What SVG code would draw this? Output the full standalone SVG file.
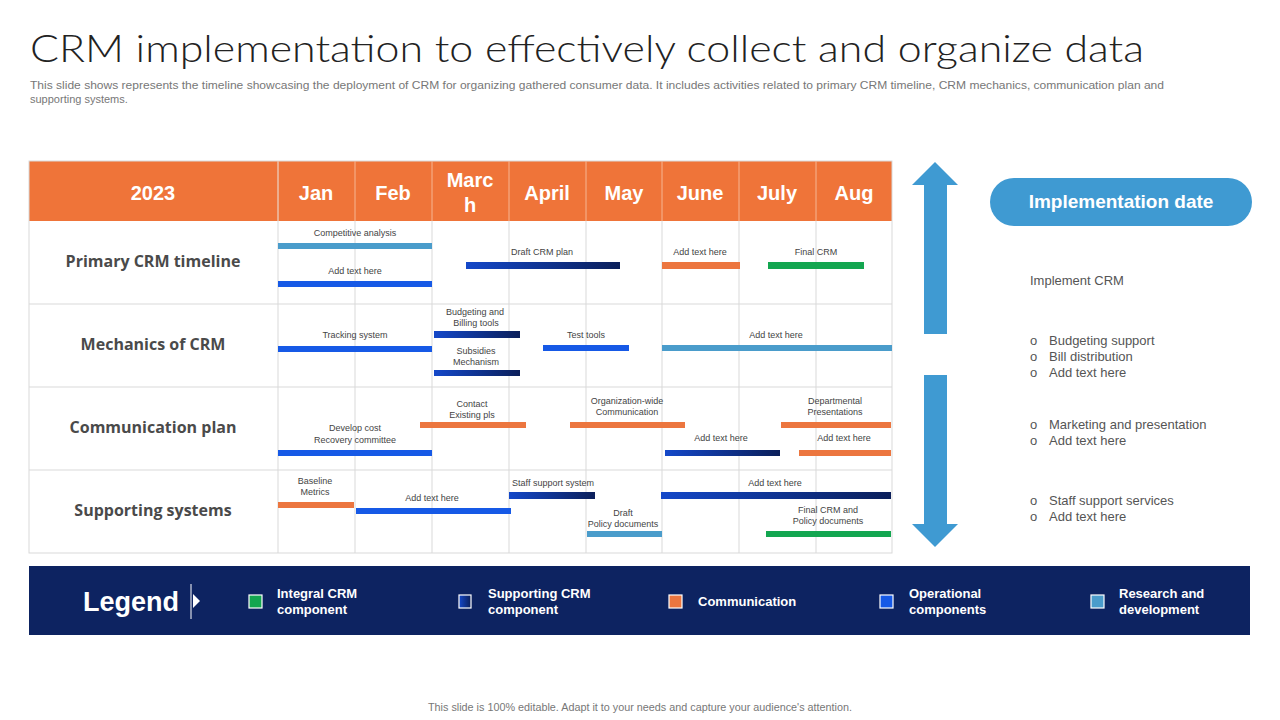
<svg xmlns="http://www.w3.org/2000/svg" width="1280" height="720" viewBox="0 0 1280 720">
<defs>
<linearGradient id="gDark" x1="0" y1="0" x2="1" y2="0">
<stop offset="0" stop-color="#1448c9"/>
<stop offset="1" stop-color="#0b1f5a"/>
</linearGradient>
<style>
.title{font-family:Lato,"Liberation Sans",Arial,sans-serif;font-weight:300;font-size:37px;fill:#222;}
.sub{font-family:"Liberation Sans",Arial,sans-serif;font-size:11px;fill:#777;}
.hdr{font-family:"Liberation Sans",Arial,sans-serif;font-size:20px;font-weight:bold;fill:#fff;text-anchor:middle;}
.rowl{font-family:"Open Sans","Liberation Sans",sans-serif;font-size:16px;font-weight:bold;fill:#4a4a4a;text-anchor:middle;}
.lbl{font-family:"Liberation Sans",Arial,sans-serif;font-size:9px;fill:#444;text-anchor:middle;}
.grid{stroke:#d9d9d9;stroke-width:1;fill:none;}
.rt{font-family:"Liberation Sans",Arial,sans-serif;font-size:13px;fill:#555;}
.leg{font-family:"Liberation Sans",Arial,sans-serif;font-size:13px;font-weight:bold;fill:#fff;}
.sq{stroke:#fff;stroke-width:1.2;}
.op{fill:#1659e6;}
.rd{fill:#4a9ccb;}
.cm{fill:#ec763f;}
.ig{fill:#13a650;}
.sp{fill:url(#gDark);}
</style>
</defs>
<rect width="1280" height="720" fill="#fff"/>
<g id="title">
<text class="title" x="30" y="62" textLength="1114" lengthAdjust="spacingAndGlyphs">CRM implementation to effectively collect and organize data</text>
<text class="sub" x="30" y="89" textLength="1134" lengthAdjust="spacingAndGlyphs">This slide shows represents the timeline showcasing the deployment of CRM for organizing gathered consumer data. It includes activities related to primary CRM timeline, CRM mechanics, communication plan and</text>
<text class="sub" x="30" y="103">supporting systems.</text>
</g>
<g id="table">
<rect x="29" y="161" width="863" height="60" fill="#ef7439"/>
<g class="grid">
<rect x="29" y="161" width="863" height="392"/>
<line x1="29" y1="304" x2="892" y2="304"/>
<line x1="29" y1="387" x2="892" y2="387"/>
<line x1="29" y1="470" x2="892" y2="470"/>
<line x1="278" y1="161" x2="278" y2="553"/>
<line x1="355" y1="221" x2="355" y2="553"/>
<line x1="432" y1="221" x2="432" y2="553"/>
<line x1="509" y1="221" x2="509" y2="553"/>
<line x1="586" y1="221" x2="586" y2="553"/>
<line x1="662" y1="221" x2="662" y2="553"/>
<line x1="739" y1="221" x2="739" y2="553"/>
<line x1="816" y1="221" x2="816" y2="553"/>
</g>
<g stroke="#f6b593" stroke-width="1">
<line x1="278" y1="161" x2="278" y2="221"/>
<line x1="355" y1="161" x2="355" y2="221"/>
<line x1="432" y1="161" x2="432" y2="221"/>
<line x1="509" y1="161" x2="509" y2="221"/>
<line x1="586" y1="161" x2="586" y2="221"/>
<line x1="662" y1="161" x2="662" y2="221"/>
<line x1="739" y1="161" x2="739" y2="221"/>
<line x1="816" y1="161" x2="816" y2="221"/>
</g>
<text class="hdr" x="153" y="200">2023</text>
<text class="hdr" x="316" y="200">Jan</text>
<text class="hdr" x="393" y="200">Feb</text>
<text class="hdr" x="470" y="187">Marc</text>
<text class="hdr" x="470" y="212">h</text>
<text class="hdr" x="547" y="200">April</text>
<text class="hdr" x="624" y="200">May</text>
<text class="hdr" x="700" y="200">June</text>
<text class="hdr" x="777" y="200">July</text>
<text class="hdr" x="854" y="200">Aug</text>
<text class="rowl" x="153" y="267">Primary CRM timeline</text>
<text class="rowl" x="153" y="350">Mechanics of CRM</text>
<text class="rowl" x="153" y="433">Communication plan</text>
<text class="rowl" x="153" y="516">Supporting systems</text>
</g>
<g id="row-primary">
<text class="lbl" x="355" y="236">Competitive analysis</text>
<rect class="rd" x="278" y="243" width="154" height="6"/>
<text class="lbl" x="355" y="274">Add text here</text>
<rect class="op" x="278" y="281" width="154" height="6"/>
<text class="lbl" x="542" y="255">Draft CRM plan</text>
<rect class="sp" x="466" y="262" width="154" height="7"/>
<text class="lbl" x="700" y="255">Add text here</text>
<rect class="cm" x="662" y="262" width="78" height="7"/>
<text class="lbl" x="816" y="255">Final CRM</text>
<rect class="ig" x="768" y="262" width="96" height="7"/>
</g>
<g id="row-mechanics">
<text class="lbl" x="355" y="338">Tracking system</text>
<rect class="op" x="278" y="346" width="154" height="6"/>
<text class="lbl" x="475" y="315">Budgeting and</text>
<text class="lbl" x="476" y="326">Billing tools</text>
<rect class="sp" x="434" y="331" width="86" height="7"/>
<text class="lbl" x="476" y="354">Subsidies</text>
<text class="lbl" x="476" y="365">Mechanism</text>
<rect class="sp" x="434" y="370" width="86" height="6"/>
<text class="lbl" x="586" y="338">Test tools</text>
<rect class="op" x="543" y="345" width="86" height="6"/>
<text class="lbl" x="776" y="338">Add text here</text>
<rect class="rd" x="662" y="345" width="230" height="6"/>
</g>
<g id="row-communication">
<text class="lbl" x="472" y="407">Contact</text>
<text class="lbl" x="472" y="418">Existing pls</text>
<rect class="cm" x="420" y="422" width="106" height="6"/>
<text class="lbl" x="627" y="404">Organization-wide</text>
<text class="lbl" x="627" y="415">Communication</text>
<rect class="cm" x="570" y="422" width="115" height="6"/>
<text class="lbl" x="835" y="404">Departmental</text>
<text class="lbl" x="835" y="415">Presentations</text>
<rect class="cm" x="781" y="422" width="110" height="6"/>
<text class="lbl" x="355" y="431">Develop cost</text>
<text class="lbl" x="355" y="443">Recovery committee</text>
<rect class="op" x="278" y="450" width="154" height="6"/>
<text class="lbl" x="721" y="441">Add text here</text>
<rect class="sp" x="665" y="450" width="115" height="6"/>
<text class="lbl" x="844" y="441">Add text here</text>
<rect class="cm" x="799" y="450" width="92" height="6"/>
</g>
<g id="row-supporting">
<text class="lbl" x="315" y="484">Baseline</text>
<text class="lbl" x="315" y="495">Metrics</text>
<rect class="cm" x="278" y="502" width="76" height="6"/>
<text class="lbl" x="432" y="501">Add text here</text>
<rect class="op" x="356" y="508" width="155" height="6"/>
<text class="lbl" x="553" y="486">Staff support system</text>
<rect class="sp" x="509" y="492" width="86" height="7"/>
<text class="lbl" x="775" y="486">Add text here</text>
<rect class="sp" x="661" y="492" width="230" height="7"/>
<text class="lbl" x="623" y="516">Draft</text>
<text class="lbl" x="623" y="527">Policy documents</text>
<rect class="rd" x="587" y="531" width="75" height="6"/>
<text class="lbl" x="828" y="513">Final CRM and</text>
<text class="lbl" x="828" y="524">Policy documents</text>
<rect class="ig" x="766" y="531" width="125" height="6"/>
</g>
<g id="arrows" fill="#3f9ad2">
<polygon points="935,162 958,185 947,185 947,334 924,334 924,185 912,185"/>
<polygon points="924,375 947,375 947,524 958,524 935,547 912,524 924,524"/>
</g>
<g id="impl-date">
<rect x="990" y="178" width="262" height="48" rx="24" fill="#3f9ad2"/>
<text x="1121" y="208" text-anchor="middle" font-family="'Liberation Sans',Arial,sans-serif" font-size="19" font-weight="bold" fill="#fff">Implementation date</text>
</g>
<g id="impl-notes">
<text class="rt" x="1030" y="285">Implement  CRM</text>
<text class="rt" x="1030" y="345">o</text><text class="rt" x="1049" y="345">Budgeting  support</text>
<text class="rt" x="1030" y="361">o</text><text class="rt" x="1049" y="361">Bill distribution</text>
<text class="rt" x="1030" y="377">o</text><text class="rt" x="1049" y="377">Add text here</text>
<text class="rt" x="1030" y="429">o</text><text class="rt" x="1049" y="429">Marketing  and  presentation</text>
<text class="rt" x="1030" y="445">o</text><text class="rt" x="1049" y="445">Add text here</text>
<text class="rt" x="1030" y="505">o</text><text class="rt" x="1049" y="505">Staff  support  services</text>
<text class="rt" x="1030" y="521">o</text><text class="rt" x="1049" y="521">Add text here</text>
</g>
<g id="legend">
<rect x="29" y="566" width="1221" height="69" fill="#0d2361"/>
<text x="83" y="611" font-family="'Liberation Sans',Arial,sans-serif" font-size="27" font-weight="bold" fill="#fff">Legend</text>
<line x1="191" y1="584" x2="191" y2="619" stroke="#fff" stroke-width="1"/>
<polygon points="193,594 200,601 193,608" fill="#fff"/>
<rect class="sq ig" x="249" y="595" width="13" height="13"/>
<text class="leg" x="277" y="598">Integral CRM</text>
<text class="leg" x="277" y="614">component</text>
<rect class="sq sp" x="459" y="595" width="12" height="13"/>
<text class="leg" x="488" y="598">Supporting  CRM</text>
<text class="leg" x="488" y="614">component</text>
<rect class="sq cm" x="669" y="595" width="13" height="13"/>
<text class="leg" x="698" y="606">Communication</text>
<rect class="sq op" x="880" y="595" width="13" height="13"/>
<text class="leg" x="909" y="598">Operational</text>
<text class="leg" x="909" y="614">components</text>
<rect class="sq rd" x="1091" y="595" width="13" height="13"/>
<text class="leg" x="1119" y="598">Research and</text>
<text class="leg" x="1119" y="614">development</text>
</g>
<g id="footer">
<text x="640" y="711" text-anchor="middle" font-family="'Liberation Sans',Arial,sans-serif" font-size="10.8" fill="#777">This slide is 100% editable.  Adapt it to your needs and capture your audience's attention.</text>
</g>
</svg>
